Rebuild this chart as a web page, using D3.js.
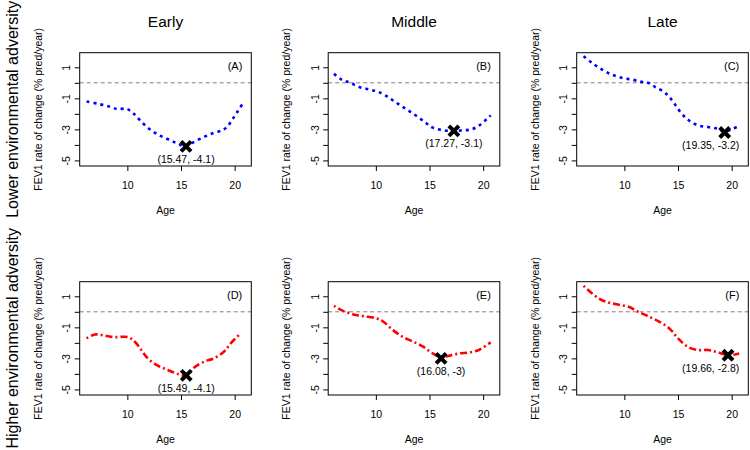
<!DOCTYPE html>
<html>
<head>
<meta charset="utf-8">
<script src="https://cdn.jsdelivr.net/npm/d3@7"></script>
<style>
  html, body { margin: 0; padding: 0; background: #fff; }
  svg { display: block; }
  text { font-family: "Liberation Sans", Arial, sans-serif; fill: #000; }
</style>
</head>
<body>
<svg id="chart" width="750" height="450"></svg>
<script>
// ---------- data ----------
const columnTitles = ["Early", "Middle", "Late"];
const rowTitles = ["Lower environmental adversity", "Higher environmental adversity"];
const panelTags = ["(A)", "(B)", "(C)", "(D)", "(E)", "(F)"];
const xTicks = [10, 15, 20];
const yTicks = [-5, -4, -3, -2, -1, 0, 1];

const agesA = [6.2, 7.3, 8.4, 9.1, 9.9, 10.5, 11.1, 11.9, 12.8, 13.8, 14.7, 15.47, 16.1, 17.2, 18.1, 18.9, 19.4, 19.8, 20.3, 20.8];
const valsA = [-1.2, -1.36, -1.55, -1.7, -1.67, -1.93, -2.36, -2.89, -3.32, -3.64, -3.92, -4.1, -3.85, -3.47, -3.21, -3.05, -2.75, -2.35, -1.82, -1.28];

const agesB = [6.1, 6.8, 7.6, 8.5, 9.4, 10.2, 11.0, 11.9, 12.85, 13.8, 14.7, 15.3, 16.3, 17.27, 18.1, 18.9, 19.65, 20.7];
const valsB = [0.58, 0.21, 0.0, -0.28, -0.43, -0.58, -0.86, -1.28, -1.71, -2.14, -2.61, -2.89, -3.06, -3.1, -3.06, -3.0, -2.74, -2.1];

const agesC = [6.2, 7.0, 7.9, 8.8, 9.75, 10.7, 11.6, 12.2, 12.85, 13.8, 14.5, 15.15, 15.9, 16.85, 17.8, 18.7, 19.35, 20.1, 20.8];
const valsC = [1.71, 1.28, 0.86, 0.54, 0.32, 0.21, 0.06, 0.0, -0.26, -0.64, -1.18, -1.82, -2.36, -2.74, -2.85, -2.96, -3.12, -2.96, -2.74];

const agesD = [6.2, 6.97, 7.9, 8.8, 10.06, 10.7, 11.3, 11.9, 12.84, 13.77, 14.7, 15.49, 16.2, 17.15, 18.06, 19.0, 19.63, 20.56];
const valsD = [-1.71, -1.46, -1.54, -1.63, -1.63, -1.93, -2.46, -3.0, -3.47, -3.75, -4.0, -4.1, -3.6, -3.21, -3.0, -2.57, -2.03, -1.39];

const agesE = [6.1, 6.8, 7.9, 8.8, 10.06, 10.7, 11.6, 12.5, 13.5, 14.4, 15.3, 16.08, 16.85, 17.8, 18.7, 19.6, 20.7];
const valsE = [0.39, 0.11, -0.17, -0.28, -0.43, -0.64, -1.18, -1.61, -1.93, -2.25, -2.68, -2.92, -2.83, -2.68, -2.62, -2.46, -1.97];

const agesF = [6.2, 7.0, 7.75, 8.5, 9.4, 10.4, 11.3, 12.2, 13.15, 14.2, 15.0, 15.9, 16.85, 17.8, 18.7, 19.66, 20.7];
const valsF = [1.67, 1.18, 0.81, 0.6, 0.47, 0.32, 0.0, -0.28, -0.6, -1.07, -1.71, -2.25, -2.46, -2.46, -2.61, -2.8, -2.68];

const minAges = [15.47, 17.27, 19.35, 15.49, 16.08, 19.66];
const minVals = [-4.1, -3.1, -3.2, -4.1, -3, -2.8];

const seriesAges = [agesA, agesB, agesC, agesD, agesE, agesF];
const seriesVals = [valsA, valsB, valsC, valsD, valsE, valsF];

// ---------- layout ----------
const svg = d3.select("#chart");
const panelW = 171.6, panelH = 113.3;
const left0 = 79.7, colStep = 248.5;
const top0 = 52.7, rowStep = 229;
const xDomain = [5.56, 21.55];
const yDomain = [-5.36, 1.94];
const rowColors = ["#0000ff", "#ff0000"];
const rowDash = ["3,4", "2,3,7,3"];
const font = 10.5;

for (let k = 0; k < 6; k++) {
  const r = Math.floor(k / 3), c = k % 3;
  const L = left0 + c * colStep, T = top0 + r * rowStep;
  const x = d3.scaleLinear().domain(xDomain).range([L, L + panelW]);
  const y = d3.scaleLinear().domain(yDomain).range([T + panelH, T]);
  const g = svg.append("g");

  // zero reference line
  g.append("line")
    .attr("x1", L).attr("x2", L + panelW)
    .attr("y1", y(0)).attr("y2", y(0))
    .attr("stroke", "#808080").attr("stroke-width", 1)
    .attr("stroke-dasharray", "4,3");

  // curve
  const pts = seriesAges[k].map((a, i) => [a, seriesVals[k][i]]);
  g.append("path")
    .datum(pts)
    .attr("fill", "none")
    .attr("stroke", rowColors[r])
    .attr("stroke-width", 2.6)
    .attr("stroke-dasharray", rowDash[r])
    .attr("d", d3.line().x(d => x(d[0])).y(d => y(d[1])).curve(d3.curveCatmullRom.alpha(0.5)));

  // box
  g.append("rect")
    .attr("x", L).attr("y", T).attr("width", panelW).attr("height", panelH)
    .attr("fill", "none").attr("stroke", "#000").attr("stroke-width", 1);

  // y axis
  const ya = g.append("g").attr("transform", `translate(${L},0)`)
    .call(d3.axisLeft(y).tickValues(yTicks).tickSize(5)
      .tickFormat(d => (Math.abs(d) % 2 === 1 ? String(d) : "")));
  ya.select(".domain").remove();
  ya.selectAll("line").attr("stroke", "#000");
  ya.selectAll("text")
    .attr("transform", "rotate(-90)")
    .attr("x", 0).attr("y", -9.5).attr("dy", 0)
    .attr("text-anchor", "middle")
    .style("font-size", font + "px")
    .style("font-family", "Liberation Sans, Arial, sans-serif");

  // x axis
  const xa = g.append("g").attr("transform", `translate(0,${T + panelH})`)
    .call(d3.axisBottom(x).tickValues(xTicks).tickSize(5));
  xa.select(".domain").remove();
  xa.selectAll("line").attr("stroke", "#000");
  xa.selectAll("text")
    .attr("y", 23).attr("dy", 0)
    .style("font-size", font + "px")
    .style("font-family", "Liberation Sans, Arial, sans-serif");

  // axis titles
  g.append("text")
    .attr("x", L + panelW / 2).attr("y", T + panelH + 48)
    .attr("text-anchor", "middle").style("font-size", font + "px")
    .text("Age");
  g.append("text")
    .attr("transform", `translate(${L - 38},${T + panelH / 2}) rotate(-90)`)
    .attr("text-anchor", "middle").style("font-size", font + "px")
    .text("FEV1 rate of change (% pred/year)");

  // panel tag
  g.append("text")
    .attr("x", L + panelW - 9).attr("y", T + 17.5)
    .attr("text-anchor", "end").style("font-size", "11px")
    .text(panelTags[k]);

  // minimum marker
  const mx = x(minAges[k]), my = y(minVals[k]);
  const s = 5;
  g.append("path")
    .attr("d", `M${mx - s},${my - s}L${mx + s},${my + s}M${mx - s},${my + s}L${mx + s},${my - s}`)
    .attr("stroke", "#000").attr("stroke-width", 4).attr("fill", "none");

  const lbl = g.append("text")
    .attr("x", mx).attr("y", my + 16.5)
    .attr("text-anchor", "middle").style("font-size", font + "px")
    .text(`(${minAges[k]}, ${minVals[k]})`);
  const bb = lbl.node().getBBox();
  const maxRight = L + panelW - 9;
  if (bb.x + bb.width > maxRight) lbl.attr("x", mx - (bb.x + bb.width - maxRight));

  // column titles
  if (r === 0) {
    g.append("text")
      .attr("x", L + panelW / 2).attr("y", 27.3)
      .attr("text-anchor", "middle").style("font-size", "15.5px")
      .text(columnTitles[c]);
  }
  // row titles
  if (c === 0) {
    g.append("text")
      .attr("transform", `translate(18,${T + panelH / 2}) rotate(-90)`)
      .attr("text-anchor", "middle").style("font-size", "16px")
      .text(rowTitles[r]);
  }
}
</script>
</body>
</html>
